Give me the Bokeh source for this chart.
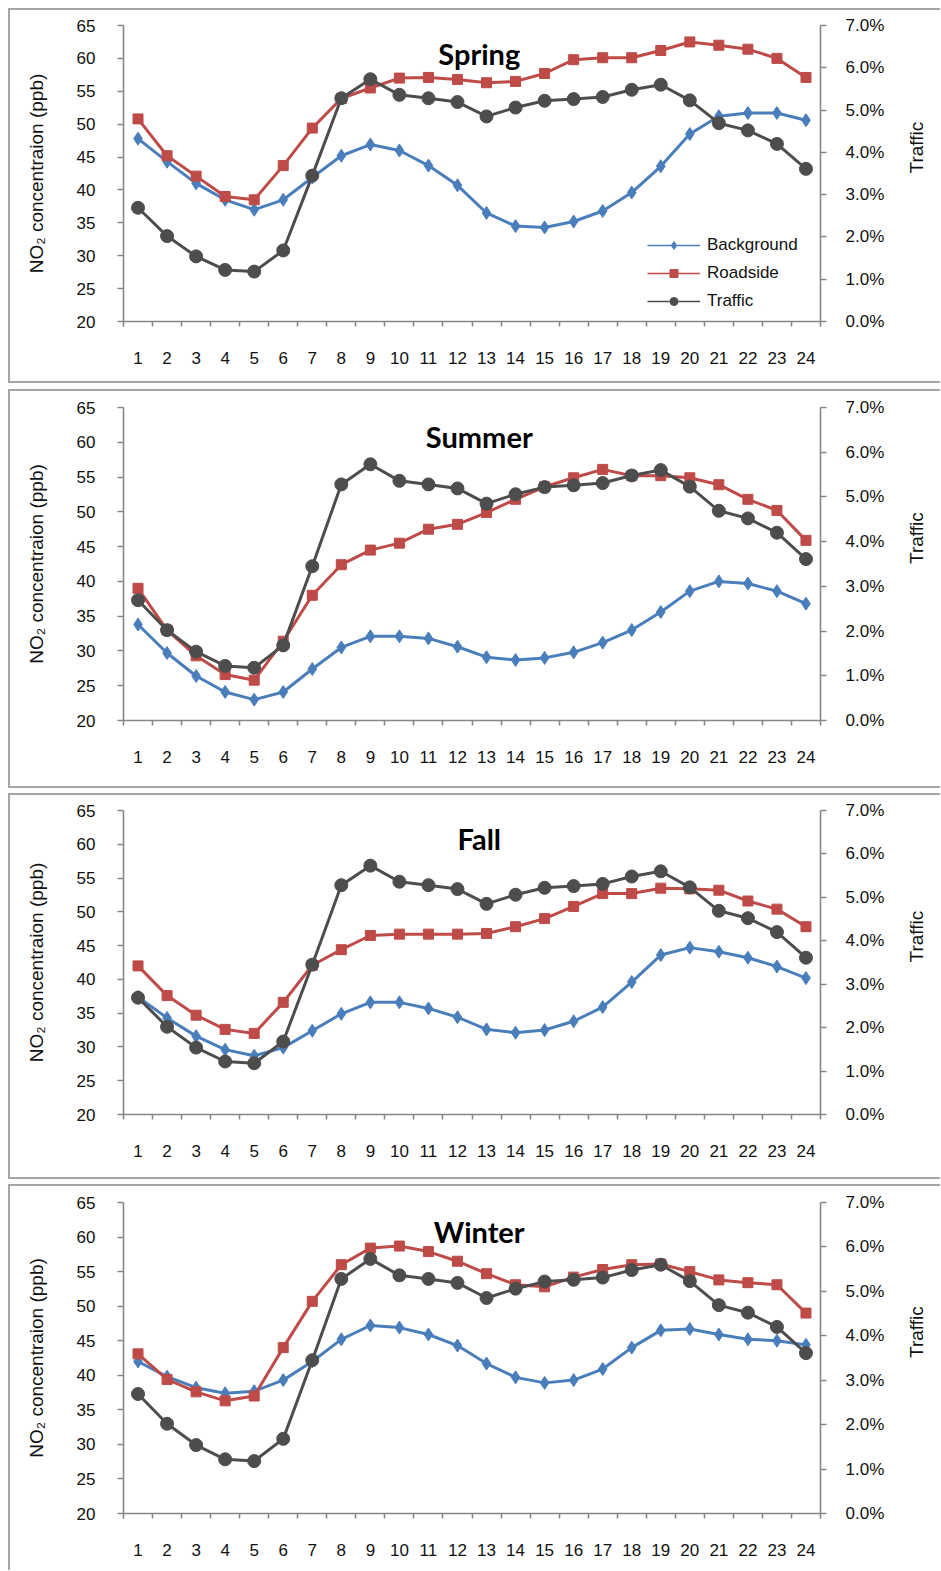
import math
from bokeh.plotting import figure
from bokeh.models import (Range1d, LinearAxis, FixedTicker, NumeralTickFormatter,
                          Legend, LegendItem, Label)
from bokeh.layouts import column
from bokeh.embed import file_html
from bokeh.resources import INLINE

# ---------------- data ----------------
hours = list(range(1, 25))
hour_edges = [h - 0.5 for h in hours] + [24.5]
conc_ticks = [20, 25, 30, 35, 40, 45, 50, 55, 60, 65]
traffic_ticks = [0.0, 0.01, 0.02, 0.03, 0.04, 0.05, 0.06, 0.07]

series_names = ["Background", "Roadside", "Traffic"]
seasons = ["Spring", "Summer", "Fall", "Winter"]

# hourly traffic share (same distribution in every panel)
traffic = [0.0269, 0.0202, 0.0154, 0.0122, 0.0118, 0.0168, 0.0345, 0.0528,
           0.0573, 0.0536, 0.0528, 0.0519, 0.0485, 0.0506, 0.0522, 0.0526,
           0.0531, 0.0548, 0.0560, 0.0523, 0.0469, 0.0452, 0.0420, 0.0361]

spring_background = [47.8, 44.3, 41.0, 38.5, 37.0, 38.5, 41.9, 45.2, 46.9, 46.0, 43.7, 40.7,
                     36.5, 34.5, 34.3, 35.2, 36.8, 39.6, 43.6, 48.5, 51.2, 51.7, 51.7, 50.6]
spring_roadside = [50.8, 45.2, 42.1, 39.0, 38.5, 43.7, 49.4, 53.9, 55.5, 57.0, 57.1, 56.8,
                   56.3, 56.5, 57.7, 59.8, 60.1, 60.1, 61.2, 62.5, 62.0, 61.4, 60.0, 57.1]
summer_background = [33.8, 29.7, 26.4, 24.1, 23.0, 24.1, 27.4, 30.5, 32.1, 32.1, 31.8, 30.6,
                     29.1, 28.7, 29.0, 29.8, 31.2, 33.0, 35.6, 38.6, 40.0, 39.7, 38.6, 36.8]
summer_roadside = [39.0, 33.0, 29.3, 26.6, 25.8, 31.4, 38.0, 42.4, 44.5, 45.5, 47.5, 48.2,
                   49.9, 51.8, 53.6, 54.9, 56.1, 55.2, 55.2, 54.9, 53.9, 51.8, 50.2, 45.9]
fall_background = [37.4, 34.3, 31.6, 29.6, 28.7, 29.9, 32.4, 34.9, 36.6, 36.6, 35.7, 34.4,
                   32.6, 32.1, 32.5, 33.8, 35.9, 39.6, 43.6, 44.7, 44.1, 43.2, 41.9, 40.2]
fall_roadside = [42.0, 37.6, 34.7, 32.6, 32.0, 36.6, 42.1, 44.4, 46.5, 46.7, 46.7, 46.7,
                 46.8, 47.8, 49.0, 50.8, 52.7, 52.7, 53.5, 53.4, 53.2, 51.6, 50.4, 47.8]
winter_background = [42.0, 39.8, 38.2, 37.4, 37.7, 39.3, 42.0, 45.2, 47.2, 46.9, 45.9, 44.3,
                     41.7, 39.7, 38.9, 39.3, 40.9, 44.0, 46.5, 46.7, 45.9, 45.2, 45.0, 44.4]
winter_roadside = [43.1, 39.4, 37.6, 36.3, 37.0, 44.0, 50.7, 56.0, 58.4, 58.7, 57.9, 56.5,
                   54.7, 53.1, 52.8, 54.2, 55.3, 56.0, 56.1, 55.0, 53.8, 53.4, 53.1, 49.0]

background = [spring_background, summer_background, fall_background, winter_background]
roadside = [spring_roadside, summer_roadside, fall_roadside, winter_roadside]

# ---------------- style ----------------
BLUE = "#4A7EBB"
RED = "#BE4B48"
GRAY = "#4D4D4D"
AXIS = "#868686"
FONT = "Liberation Sans"

W = 940
heights = [386, 404, 391, 389]
tops = [25, 21, 20, 21]
bottoms = [65, 70, 67, 57]
box_top = [8, 3, 3, 3]
box_bottom = [3, 2, 2, None]


def style_axis(ax):
    ax.axis_line_color = AXIS
    ax.axis_line_width = 1.6
    ax.major_tick_line_color = AXIS
    ax.major_tick_line_width = 1.6
    ax.minor_tick_line_color = AXIS
    ax.minor_tick_line_width = 1.6
    ax.major_label_text_font = FONT
    ax.major_label_text_font_size = "17px"
    ax.major_label_text_color = "#111111"
    ax.axis_label_text_font = FONT
    ax.axis_label_text_font_size = "19px"
    ax.axis_label_text_font_style = "normal"
    ax.axis_label_text_color = "#111111"


panels = []
for i, season in enumerate(seasons):
    H = heights[i]
    p = figure(width=W, height=H,
               x_range=Range1d(0.5, 24.5), y_range=Range1d(20, 65),
               output_backend="svg", toolbar_location=None,
               min_border_left=123, min_border_right=W - 821,
               min_border_top=tops[i], min_border_bottom=bottoms[i])
    p.extra_y_ranges = {"traffic": Range1d(0.0, 0.07)}
    p.xgrid.visible = False
    p.ygrid.visible = False
    p.outline_line_color = None

    # panel border (drawn as a CSS box over the canvas)
    if box_bottom[i] is not None:
        bcss = "bottom: %dpx;" % box_bottom[i]
    else:
        bcss = "bottom: 0px; border-bottom-width: 0px;"
    p.stylesheets = [
        ":host { position: relative; }",
        ":host::after { content: ''; position: absolute; left: 8px; right: 0px; "
        "top: %dpx; border: 2px solid #A6A6A6; border-right: none; %s "
        "pointer-events: none; z-index: 10; box-sizing: border-box; }"
        % (box_top[i], bcss),
    ]

    # x axis: labels at hours, tick marks between categories
    xa = p.xaxis[0]
    xa.ticker = FixedTicker(ticks=hours, minor_ticks=hour_edges)
    style_axis(xa)
    xa.major_tick_out = 0
    xa.major_tick_in = 0
    xa.minor_tick_out = 5
    xa.minor_tick_in = 0
    xa.major_label_standoff = 25

    # left axis
    ya = p.yaxis[0]
    ya.ticker = FixedTicker(ticks=conc_ticks)
    style_axis(ya)
    ya.major_tick_out = 6
    ya.major_tick_in = 0
    ya.minor_tick_out = 0
    ya.minor_tick_in = 0
    ya.major_label_standoff = 22
    ya.axis_label = "NO₂ concentraion (ppb)"
    ya.axis_label_standoff = 27

    # right axis
    ra = LinearAxis(y_range_name="traffic", ticker=FixedTicker(ticks=traffic_ticks),
                    formatter=NumeralTickFormatter(format="0.0%"))
    style_axis(ra)
    ra.major_tick_out = 6
    ra.major_tick_in = 0
    ra.minor_tick_out = 0
    ra.minor_tick_in = 0
    ra.major_label_standoff = 19
    ra.axis_label = "Traffic"
    ra.axis_label_standoff = 29
    ra.axis_label_orientation = math.pi / 2
    p.add_layout(ra, "right")

    # series
    p.line(hours, background[i], line_color=BLUE, line_width=3)
    p.scatter(hours, background[i], marker="diamond", size=13,
              fill_color=BLUE, line_color=BLUE)
    p.line(hours, roadside[i], line_color=RED, line_width=3)
    p.scatter(hours, roadside[i], marker="square", size=10,
              fill_color=RED, line_color=RED)
    p.line(hours, traffic, y_range_name="traffic", line_color=GRAY, line_width=3)
    p.scatter(hours, traffic, y_range_name="traffic", marker="circle", size=13,
              fill_color=GRAY, line_color=GRAY)

    p.add_layout(Label(x=12.75, y=60.8, text=season, text_font="Lato",
                       text_font_style="bold", text_font_size="29px",
                       text_color="#000000", text_align="center",
                       text_baseline="alphabetic"))

    if i == 0:
        items = []
        nan = [float("nan")]
        for name, color, marker, size in zip(series_names, [BLUE, RED, GRAY],
                                             ["diamond", "square", "circle"], [13, 9, 13]):
            lr = p.line(x=nan, y=nan, line_color=color, line_width=1.5)
            sr = p.scatter(x=nan, y=nan, marker=marker, size=size,
                           fill_color=color, line_color=color)
            items.append(LegendItem(label=name, renderers=[lr, sr]))
        legend = Legend(items=items, location=(524, 10), orientation="vertical",
                        border_line_color=None, background_fill_alpha=0,
                        glyph_width=53, glyph_height=20, label_height=20,
                        label_standoff=7, spacing=8, padding=0, margin=0,
                        label_text_font=FONT, label_text_font_size="17px",
                        label_text_color="#111111")
        p.add_layout(legend)

    panels.append(p)

layout = column(*panels, spacing=0)
open("out.html", "w").write(file_html(layout, INLINE))
